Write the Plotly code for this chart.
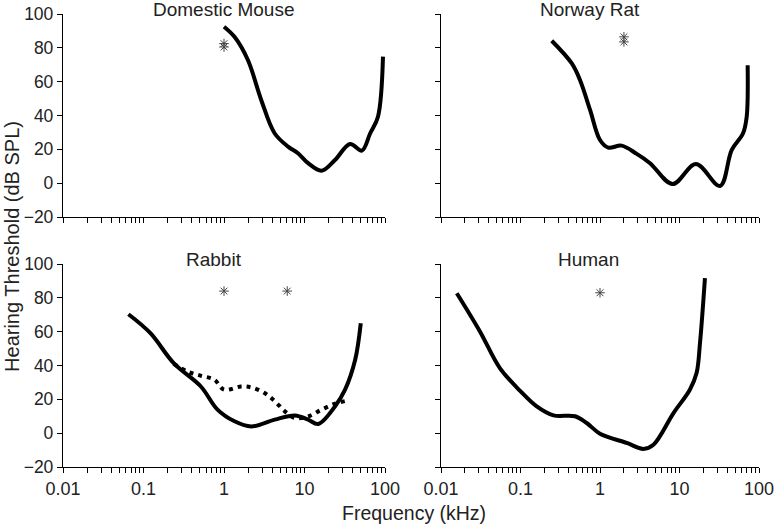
import plotly.graph_objects as go

# ---------------- data ----------------
mouse_freq = [1.0, 1.35, 1.98, 2.9, 4.25, 6.25, 8.3, 11.1, 16.3, 23.9, 36.8, 51.6, 65.5, 81.8, 94.4]
mouse_db = [92.5, 86.5, 72.8, 49.2, 29.5, 21.6, 17.7, 11.8, 7.4, 13.7, 23.2, 19.2, 29.5, 39.3, 74.8]

rat_freq = [0.247, 0.44, 0.56, 0.75, 1.0, 1.27, 1.87, 2.9, 4.26, 8.2, 16.1, 32.3, 45.3, 63, 70, 72]
rat_db = [84.2, 70.9, 61, 43.3, 25.5, 21, 22.2, 17.3, 11.8, -0.5, 11.3, -1.7, 19.6, 29.5, 39.3, 69.7]

rabbit_freq = [0.065, 0.122, 0.237, 0.516, 0.83, 1.35, 2.18, 4.26, 7.6, 11.1, 14.8, 23.9, 31.9, 42.6, 50]
rabbit_db = [70.3, 59.1, 41.4, 27.6, 13.9, 7, 4, 8, 10.5, 8, 5.4, 15.8, 25.7, 43.4, 65]

rabbit2_freq = [0.237, 0.35, 0.52, 0.76, 1.0, 1.63, 2.2, 3.2, 4.3, 5.7, 7.6, 11, 16.3, 23.9, 31.9]
rabbit2_db = [41, 36.5, 33.9, 31.6, 25.7, 27.6, 27, 23.7, 18.8, 12.9, 9, 9.8, 13.9, 17.4, 19]

human_freq = [0.0158, 0.031, 0.055, 0.099, 0.16, 0.26, 0.485, 0.68, 1.0, 2.17, 3.5, 4.7, 8.4, 13.5, 16.4, 18.1, 20.9]
human_db = [82.7, 60, 38.5, 25, 15.8, 10.5, 10, 6, -0.3, -5.8, -9.3, -6.8, 11.9, 25.7, 35.5, 53.2, 91.6]

mouse_star_f = [1.0, 1.0]
mouse_star_db = [80.5, 82.5]
rat_star_f = [2.0, 2.0]
rat_star_db = [83.5, 86.5]
rabbit_star_f = [1.0, 6.1]
rabbit_star_db = [84, 84]
human_star_f = [1.0]
human_star_db = [83]

panel_titles = ["Domestic Mouse", "Norway Rat", "Rabbit", "Human"]
x_tickvals = [0.01, 0.1, 1, 10, 100]
x_ticktext = ["0.01", "0.1", "1", "10", "100"]
y_tickvals = [-20, 0, 20, 40, 60, 80, 100]

# ---------------- figure ----------------
FONT = "Liberation Sans, Arial, sans-serif"
TXT = "#222222"
fig = go.Figure()

minor_vals = [m * 10 ** e for e in (-2, -1, 0, 1) for m in range(2, 10)]

panels = [
    ("x", "y", mouse_freq, mouse_db, mouse_star_f, mouse_star_db),
    ("x2", "y2", rat_freq, rat_db, rat_star_f, rat_star_db),
    ("x3", "y3", rabbit_freq, rabbit_db, rabbit_star_f, rabbit_star_db),
    ("x4", "y4", human_freq, human_db, human_star_f, human_star_db),
]

for xa, ya, f, d, sf, sd in panels:
    fig.add_trace(go.Scatter(x=f, y=d, xaxis=xa, yaxis=ya, mode="lines",
                             line=dict(color="black", width=4, shape="spline", smoothing=1),
                             showlegend=False, hoverinfo="x+y"))
    if xa == "x3":
        fig.add_trace(go.Scatter(x=rabbit2_freq, y=rabbit2_db, xaxis=xa, yaxis=ya, mode="lines",
                                 line=dict(color="black", width=4, shape="spline", smoothing=1,
                                           dash="4px,5px"),
                                 showlegend=False))
    fig.add_trace(go.Scatter(x=sf, y=sd, xaxis=xa, yaxis=ya, mode="markers",
                             marker=dict(symbol="asterisk-open", size=8, color="#444444",
                                         line=dict(color="#444444", width=1)),
                             showlegend=False))

L, R, T, B = 63, 17, 14, 60
W, H = 776, 527
pw, ph = W - L - R, H - T - B
xdom_left = [0, (385 - L) / pw]
xdom_right = [(441 - L) / pw, 1]
ydom_top = [(H - B - 217) / ph, 1]
ydom_bot = [0, (467 - 264) / ph]


def xaxis(domain, anchor, labels):
    return dict(type="log", range=[-2, 2], domain=domain, anchor=anchor,
                tickvals=x_tickvals, ticktext=x_ticktext, showticklabels=labels,
                ticks="outside", ticklen=5, tickwidth=1.2, tickcolor="black",
                minor=dict(tickvals=minor_vals, ticks="outside", ticklen=5,
                           tickwidth=1.2, tickcolor="black", showgrid=False),
                showline=True, linecolor="black", linewidth=1.3,
                showgrid=False, zeroline=False, automargin=False,
                tickfont=dict(family=FONT, size=18, color=TXT))


def yaxis(domain, anchor, labels):
    return dict(range=[-20, 100], domain=domain, anchor=anchor,
                tickvals=y_tickvals, showticklabels=labels,
                ticks="outside", ticklen=5, tickwidth=1.2, tickcolor="black",
                showline=True, linecolor="black", linewidth=1.3,
                showgrid=False, zeroline=False, automargin=False,
                tickfont=dict(family=FONT, size=17.5, color=TXT))


fig.update_layout(
    width=W, height=H,
    margin=dict(l=L, r=R, t=T, b=B, autoexpand=False),
    paper_bgcolor="white", plot_bgcolor="white",
    xaxis=xaxis(xdom_left, "y", False),
    yaxis=yaxis(ydom_top, "x", True),
    xaxis2=xaxis(xdom_right, "y2", False),
    yaxis2=yaxis(ydom_top, "x2", False),
    xaxis3=xaxis(xdom_left, "y3", True),
    yaxis3=yaxis(ydom_bot, "x3", True),
    xaxis4=xaxis(xdom_right, "y4", True),
    yaxis4=yaxis(ydom_bot, "x4", False),
)

title_x = [0.0, -0.126, -0.125, -0.14]
refs = [("x", "y"), ("x2", "y2"), ("x3", "y3"), ("x4", "y4")]
for (xr, yr), t, tx in zip(refs, panel_titles, title_x):
    fig.add_annotation(text=t, x=tx, xref=xr, y=1, yref=yr + " domain",
                       yanchor="middle", yshift=5, showarrow=False,
                       font=dict(family=FONT, size=19, color=TXT))

fig.add_annotation(text="Hearing Threshold (dB SPL)", textangle=-90,
                   x=-0.0733, xref="paper", xanchor="center",
                   y=0.488, yref="paper", yanchor="middle", showarrow=False,
                   font=dict(family=FONT, size=20, color=TXT))
fig.add_annotation(text="Frequency (kHz)", x=0.504, xref="paper", xanchor="center",
                   y=-0.1015, yref="paper", yanchor="middle", showarrow=False,
                   font=dict(family=FONT, size=19.5, color=TXT))

fig.write_html("out.html", config={"displayModeBar": False},
               post_script="document.body.style.margin='0';document.body.style.overflow='hidden';")
